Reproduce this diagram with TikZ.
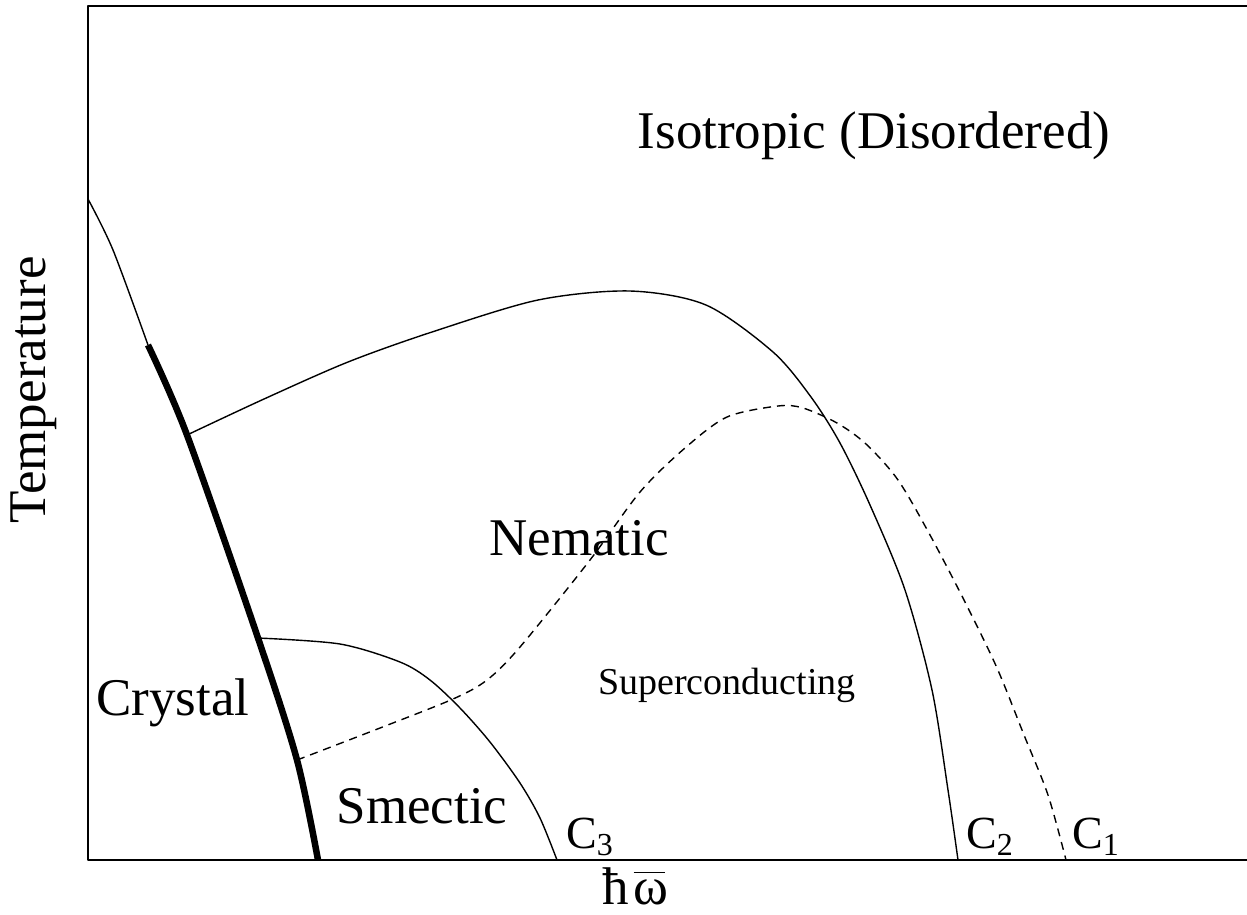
\documentclass[tikz,border=0pt]{standalone}
\usepackage{fontspec}
\setmainfont{Liberation Serif}
\newcommand{\clabel}[1]{C\raisebox{-7pt}{\fontsize{32}{36}\selectfont #1}}
\begin{document}
\begin{tikzpicture}[x=1pt,y=-1pt,
  thinline/.style={line width=1.4pt,line join=round},
  thickline/.style={line width=6.5pt},
  dashline/.style={line width=1.4pt,dash pattern=on 8pt off 6pt},
  bigtext/.style={font=\fontsize{53}{60}\selectfont,inner sep=0pt,anchor=base},
  midtext/.style={font=\fontsize{46}{52}\selectfont,inner sep=0pt,anchor=base west},
  smalltext/.style={font=\fontsize{38}{44}\selectfont,inner sep=0pt,anchor=base}]
\useasboundingbox (0,0) rectangle (1247,914);
% frame
\draw[thinline] (1250,6) -- (88,6) -- (88,860) -- (1250,860);
% junction points
\coordinate (top) at (88,199);
\coordinate (tc) at (148,345);
\coordinate (ni) at (187,435);
\coordinate (ns) at (258,638);
\coordinate (ds) at (297,760);
\coordinate (cb) at (318,860);
\coordinate (c3) at (557,860);
\coordinate (c2) at (958,860);
\coordinate (c1) at (1066,860);
% thin part of crystal line
\draw[thinline] plot[smooth,tension=0.5] coordinates {(top) (113,250) (tc)};
% thick crystal boundary
\draw[thickline] plot[smooth,tension=0.5] coordinates {(tc) (ni) (ns) (ds) (cb)};
% nematic-isotropic boundary C2
\draw[thinline] plot[smooth,tension=0.5] coordinates {(ni) (264,399) (348,362) (432,332) (538,300) (630,291) (706,305) (773,352) (811,397) (840,443) (870,505) (905,590) (932,690) (948,790) (c2)};
% smectic boundary C3
\draw[thinline] plot[smooth,tension=0.5] coordinates {(ns) (340,644) (400,662) (430,680) (460,708) (490,742) (520,783) (540,818) (c3)};
% superconducting boundary C1 (dashed)
\draw[dashline] plot[smooth,tension=0.5] coordinates {(ds) (380,728) (453,699) (487,680) (520,647) (590,560) (640,492) (685,448) (727,417) (778,406) (803,408) (837,423) (866,444) (898,480) (930,535) (965,602) (997,668) (1024,735) (1048,795) (c1)};
% labels
\node[bigtext] (iso) at (874,148) {Isotropic (Disordered)};
\node[bigtext] (nem) at (579,555) {Nematic};
\node[smalltext] (sc) at (727,694) {Superconducting};
\node[bigtext] (cry) at (173,715) {Crystal};
\node[bigtext] (sme) at (422,823) {Smectic};
\node[midtext] (lc3) at (566,848) {\clabel{3}};
\node[midtext] (lc2) at (966,848) {\clabel{2}};
\node[midtext] (lc1) at (1072,848) {\clabel{1}};
\node[bigtext,anchor=base west] (xl) at (602,904) {ħ\hspace{5pt}\rlap{\rule[31pt]{31pt}{1.5pt}}ω};
\node[bigtext,rotate=90] (yl) at (45,390) {Temperature};
\end{tikzpicture}
\end{document}
